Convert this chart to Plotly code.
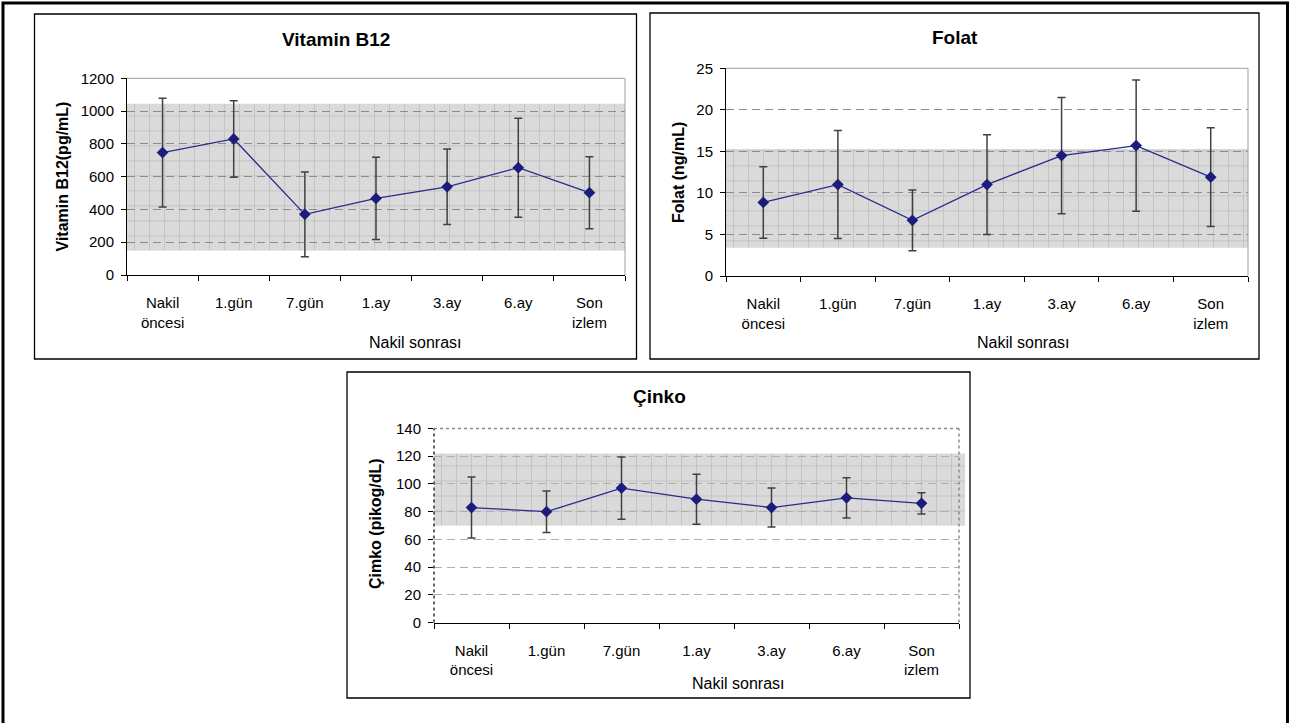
import plotly.graph_objects as go

W, H = 1297, 723

# ---------------- data ----------------
categories = ["Nakil<br>öncesi", "1.gün", "7.gün", "1.ay", "3.ay", "6.ay", "Son<br>izlem"]

b12_mean = [747, 830, 370, 467, 538, 655, 502]
b12_sd = [332, 233, 258, 251, 230, 302, 220]
b12_ref = [150, 1045]

folat_mean = [8.85, 11.0, 6.7, 11.0, 14.5, 15.7, 11.9]
folat_sd = [4.3, 6.5, 3.65, 6.0, 7.0, 7.9, 5.95]
folat_ref = [3.4, 15.3]

cinko_mean = [83, 80, 97, 89, 83, 90, 86]
cinko_sd = [22, 15, 22.5, 18, 14, 14.5, 7.7]
cinko_ref = [70, 122]

x_title = "Nakil sonrası"

FONT = "Liberation Sans, Arial, sans-serif"


def fx(p):
    return p / W


def fy(p):
    return 1 - p / H


panels = [
    dict(title="Vitamin B12", ytitle="Vitamin B12(pg/mL)", mean=b12_mean, sd=b12_sd,
         ref=b12_ref, yrange=[0, 1200], dtick=200,
         box=(34.5, 14, 636.5, 359), plot=(127, 78.3, 625, 275), band_right=625,
         title_xy=(336, 39), ytitle_xy=(62, 176.5), xtitle_xy=(415, 342),
         dotted=False, gridcolor="#8c8c8c"),
    dict(title="Folat", ytitle="Folat (ng/mL)", mean=folat_mean, sd=folat_sd,
         ref=folat_ref, yrange=[0, 25], dtick=5,
         box=(650, 13, 1259, 359), plot=(726, 68.3, 1248, 276), band_right=1248,
         title_xy=(955, 37), ytitle_xy=(678, 173), xtitle_xy=(1023, 342),
         dotted=False, gridcolor="#8c8c8c"),
    dict(title="Çinko", ytitle="Çimko (pikog/dL)", mean=cinko_mean, sd=cinko_sd,
         ref=cinko_ref, yrange=[0, 140], dtick=20,
         box=(347, 372, 970, 698), plot=(434, 428.5, 959, 622.6), band_right=965,
         title_xy=(659, 396), ytitle_xy=(375, 524), xtitle_xy=(738, 683),
         dotted=True, gridcolor="#b0b0b0"),
]

n = len(categories)
xs = list(range(n))
xr = [-0.5, n - 0.5]

fig = go.Figure()
layout = dict(
    width=W, height=H, autosize=False,
    margin=dict(l=0, r=0, t=0, b=0, pad=0, autoexpand=False),
    paper_bgcolor="white", plot_bgcolor="rgba(0,0,0,0)",
    showlegend=False, font=dict(family=FONT, color="black", size=15),
)
shapes = []
annotations = []

for i, p in enumerate(panels):
    bi = i + 1          # band subplot index (drawn first)
    di = i + 4          # data subplot index (drawn on top)
    bs = "" if bi == 1 else str(bi)
    ds = str(di)
    l, t, r, b = p["plot"]
    lo, hi = p["ref"]

    # band subplot (reference range with graph-paper pattern)
    layout["xaxis" + bs] = dict(domain=[fx(l), fx(p["band_right"])], range=xr, visible=False,
                                anchor="y" + bs, fixedrange=True, automargin=False)
    layout["yaxis" + bs] = dict(domain=[fy(b), fy(t)], range=p["yrange"], visible=False,
                                anchor="x" + bs, fixedrange=True, automargin=False)
    fig.add_trace(go.Scatter(
        x=[xr[0], xr[1], xr[1], xr[0], xr[0]], y=[lo, lo, hi, hi, lo],
        xaxis="x" + bs, yaxis="y" + bs, mode="lines", line=dict(width=0),
        fill="toself", fillcolor="#dadada",
        fillpattern=dict(shape="+", bgcolor="#dadada", fgcolor="#a4a4a4", size=15, solidity=0.11),
        hoverinfo="skip"))

    # data subplot
    layout["xaxis" + ds] = dict(
        domain=[fx(l), fx(r)], range=xr, anchor="y" + ds, automargin=False,
        tickmode="array", tickvals=xs, ticktext=categories, ticks="",
        ticklabelstandoff=14, tickfont=dict(size=15, family=FONT, color="black"),
        showline=True, linecolor="black", linewidth=1, showgrid=False, zeroline=False,
        minor=dict(tickmode="array", tickvals=[k - 0.5 for k in range(n + 1)],
                   ticks="outside", ticklen=5, tickcolor="black", tickwidth=1, showgrid=False),
        fixedrange=True)
    layout["yaxis" + ds] = dict(
        domain=[fy(b), fy(t)], range=p["yrange"], anchor="x" + ds, automargin=False,
        dtick=p["dtick"], tick0=0, ticks="outside", ticklen=5, tickcolor="black", tickwidth=1,
        ticklabelstandoff=4, tickfont=dict(size=15, family=FONT, color="black"),
        showline=not p["dotted"], linecolor="black", linewidth=1,
        showgrid=True, gridcolor=p["gridcolor"], griddash="8px,5px", gridwidth=1,
        zeroline=False, fixedrange=True)

    fig.add_trace(go.Scatter(
        x=xs, y=p["mean"], xaxis="x" + ds, yaxis="y" + ds, mode="lines+markers",
        line=dict(color="#2a2a8c", width=1.3),
        marker=dict(symbol="diamond", size=9, color="#1c1c7c"),
        error_y=dict(type="data", array=p["sd"], visible=True, color="#404040",
                     thickness=1.5, width=4),
        hoverinfo="skip"))

    xd, yd = "x" + ds + " domain", "y" + ds + " domain"
    if p["dotted"]:
        shapes.append(dict(type="line", xref=xd, yref=yd, x0=0, x1=1, y0=1, y1=1,
                           line=dict(color="#8a8a8a", width=1.5, dash="dot"), layer="above"))
        shapes.append(dict(type="line", xref=xd, yref=yd, x0=1, x1=1, y0=0, y1=1,
                           line=dict(color="#8a8a8a", width=1.5, dash="dot"), layer="above"))
        shapes.append(dict(type="line", xref=xd, yref=yd, x0=0, x1=0, y0=0, y1=1,
                           line=dict(color="#303030", width=1.5, dash="dot"), layer="above"))
    else:
        shapes.append(dict(type="line", xref=xd, yref=yd, x0=0, x1=1, y0=1, y1=1,
                           line=dict(color="#a0a0a0", width=1), layer="above"))
        shapes.append(dict(type="line", xref=xd, yref=yd, x0=1, x1=1, y0=0, y1=1,
                           line=dict(color="#a0a0a0", width=1), layer="above"))

    # chart box
    bx0, by0, bx1, by1 = p["box"]
    shapes.append(dict(type="rect", xref="paper", yref="paper",
                       x0=fx(bx0), x1=fx(bx1), y0=fy(by1), y1=fy(by0),
                       line=dict(color="black", width=1.3), layer="above"))

    # texts
    annotations.append(dict(text="<b>%s</b>" % p["title"], x=fx(p["title_xy"][0]), y=fy(p["title_xy"][1]),
                            xref="paper", yref="paper", showarrow=False, xanchor="center", yanchor="middle",
                            font=dict(size=19, family=FONT, color="black")))
    annotations.append(dict(text="<b>%s</b>" % p["ytitle"], x=fx(p["ytitle_xy"][0]), y=fy(p["ytitle_xy"][1]),
                            xref="paper", yref="paper", showarrow=False, xanchor="center", yanchor="middle",
                            textangle=-90, font=dict(size=16, family=FONT, color="black")))
    annotations.append(dict(text=x_title, x=fx(p["xtitle_xy"][0]), y=fy(p["xtitle_xy"][1]),
                            xref="paper", yref="paper", showarrow=False, xanchor="center", yanchor="middle",
                            font=dict(size=16, family=FONT, color="black")))

# outer frame
shapes.append(dict(type="rect", xref="paper", yref="paper",
                   x0=fx(3), x1=fx(1287.5), y0=fy(726), y1=fy(3),
                   line=dict(color="black", width=3), layer="above"))

layout["shapes"] = shapes
layout["annotations"] = annotations
fig.update_layout(**layout)

post = (
    "var s=document.documentElement.style;s.margin='0';s.padding='0';s.overflow='hidden';"
    "var b=document.body.style;b.margin='0';b.padding='0';b.overflow='hidden';"
    "var d=document.getElementById('{plot_id}');d.style.position='absolute';"
    "d.style.left='0px';d.style.top='0px';"
)
fig.write_html("out.html", post_script=post, config={"displayModeBar": False})
